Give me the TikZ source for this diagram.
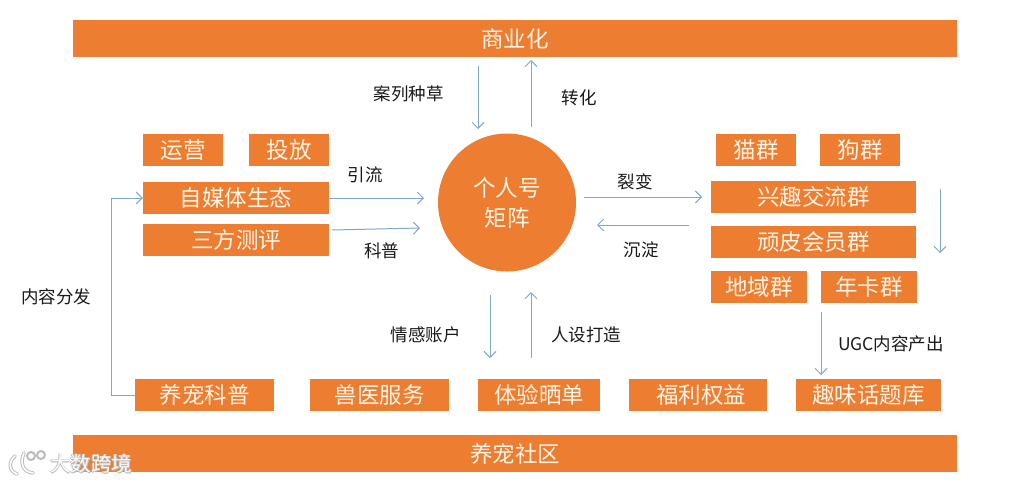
\documentclass[tikz,border=0pt]{standalone}
\usepackage{xcolor}
\usepackage{fontspec}
\setmainfont{Noto Sans CJK SC}
\definecolor{colBox}{HTML}{ED7D31}
\definecolor{colBoxText}{HTML}{FFF4E6}
\definecolor{colArrow}{HTML}{7FA8C9}
\definecolor{colLabel}{HTML}{1A1A1A}
\definecolor{colMark}{HTML}{BDBDBD}
\usetikzlibrary{arrows.meta, positioning}

\begin{document}
\begin{tikzpicture}[x=1pt, y=-1pt,
		boxBig/.style={fill=colBox, text=colBoxText, inner sep=0pt, font=\fontsize{22.5}{24}\selectfont},
		flowLabel/.style={text=colLabel, inner sep=0pt, font=\fontsize{17.5}{20}\selectfont},
		flowArrow/.style={draw=colArrow, line width=1pt, -{Straight Barb[length=6pt, width=12pt]}},
		markText/.style={inner sep=0pt, font=\fontsize{20.5}{22}\selectfont}]
	\useasboundingbox (0,0) rectangle (1014,483);
	\fill[white] (0,0) rectangle (1014,483);
	% bars
	\node[boxBig, minimum width=884, minimum height=37] (bizBar) at (515,38.5) {商业化};
	\node[boxBig, minimum width=884, minimum height=37] (petBar) at (515,453.5) {养宠社区};
	% left column
	\node[boxBig, minimum width=80, minimum height=32] (opsBox) at (183,150) {运营};
	\node[boxBig, minimum width=80, minimum height=32] (adsBox) at (289,150) {投放};
	\node[boxBig, minimum width=186, minimum height=32] (mediaBox) at (236,198) {自媒体生态};
	\node[boxBig, minimum width=186, minimum height=32] (testBox) at (236,240) {三方测评};
	% centre
	\node[circle, fill=colBox, text=colBoxText, minimum size=138, inner sep=0pt, align=center, font=\fontsize{22.5}{30}\selectfont] (hubNode) at (507,202.5) {个人号\\矩阵};
	% right column
	\node[boxBig, minimum width=80, minimum height=32] (catBox) at (756,150) {猫群};
	\node[boxBig, minimum width=80, minimum height=32] (dogBox) at (860,150) {狗群};
	\node[boxBig, minimum width=205, minimum height=32] (hobbyBox) at (813.5,197) {兴趣交流群};
	\node[boxBig, minimum width=205, minimum height=32] (vipBox) at (813.5,242) {顽皮会员群};
	\node[boxBig, minimum width=96, minimum height=32] (areaBox) at (759,287) {地域群};
	\node[boxBig, minimum width=96, minimum height=32] (yearBox) at (869,287) {年卡群};
	% bottom row
	\node[boxBig, minimum width=139, minimum height=32] (sciBox) at (204.5,395) {养宠科普};
	\node[boxBig, minimum width=139, minimum height=32] (vetBox) at (379.5,395) {兽医服务};
	\node[boxBig, minimum width=122, minimum height=32] (tryBox) at (539,395) {体验晒单};
	\node[boxBig, minimum width=138, minimum height=32] (perkBox) at (698,395) {\hspace*{6pt}福利权益};
	\node[boxBig, minimum width=145, minimum height=32] (topicBox) at (868.5,395) {趣味话题库};
	% free arrow ends
	\coordinate (caseA) at (478,66);
	\coordinate (caseB) at (478,129);
	\coordinate (sellA) at (531,127);
	\coordinate (sellB) at (531,60);
	\coordinate (leadB) at (424,198);
	\coordinate (popA) at (332,230);
	\coordinate (popB) at (420,228);
	\coordinate (fissA) at (584,197);
	\coordinate (fissB) at (702,197);
	\coordinate (sinkA) at (689,225);
	\coordinate (sinkB) at (597,225);
	\coordinate (feelA) at (490,295);
	\coordinate (feelB) at (490,358);
	\coordinate (roleA) at (531,358);
	\coordinate (roleB) at (531,292);
	\coordinate (sideA) at (940,189);
	\coordinate (sideB) at (940,253);
	\coordinate (ugcA) at (821,312);
	\coordinate (ugcB) at (821,375);
	\coordinate (sendA) at (111,395);
	\coordinate (sendB) at (111,198);
	% arrows
	\draw[flowArrow] (caseA) -- (caseB);
	\draw[flowArrow] (sellA) -- (sellB);
	\draw[flowArrow] (mediaBox.east) -- (leadB);
	\draw[flowArrow] (popA) -- (popB);
	\draw[flowArrow] (fissA) -- (fissB);
	\draw[flowArrow] (sinkA) -- (sinkB);
	\draw[flowArrow] (feelA) -- (feelB);
	\draw[flowArrow] (roleA) -- (roleB);
	\draw[flowArrow] (sideA) -- (sideB);
	\draw[flowArrow] (ugcA) -- (ugcB);
	\draw[flowArrow] (sciBox.west) -- (sendA) -- (sendB) -- (mediaBox.west);
	% labels
	\node[flowLabel] (caseLabel) at (408.5,94) {案列种草};
	\node[flowLabel] (sellLabel) at (579,98) {转化};
	\node[flowLabel] (leadLabel) at (365,175) {引流};
	\node[flowLabel] (popLabel) at (381.5,251) {科普};
	\node[flowLabel] (fissLabel) at (635,182) {裂变};
	\node[flowLabel] (sinkLabel) at (641,250) {沉淀};
	\node[flowLabel] (feelLabel) at (425.5,335) {情感账户};
	\node[flowLabel] (roleLabel) at (586,335) {人设打造};
	\node[flowLabel] (ugcLabel) at (891,344) {UGC内容产出};
	\node[flowLabel] (sendLabel) at (56,297) {内容分发};
	% watermark
	\draw[colMark, line width=3.6pt, line cap=round] (15,456) .. controls (8,462) and (9,471) .. (17,474) (24,453) .. controls (20,462) and (22,472) .. (33,473);
	\draw[colMark, line width=2pt] (31,456) circle (4) (41,455) circle (4);
	\draw[white, line width=1.6pt, line cap=round] (15,456) .. controls (8,462) and (9,471) .. (17,474) (24,453) .. controls (20,462) and (22,472) .. (33,473);
	\foreach \dx/\dy [count=\i] in {-0.8/0, 0.9/0, 0/-0.8, 0/0.9, 0.8/0.8} {
		\node[markText, text=colMark] (markShade\i) at (91+\dx,464+\dy) {大数跨境};
	}
	\node[markText, text=white!92!colMark] (markText) at (91,464) {大数跨境};
\end{tikzpicture}
\end{document}
